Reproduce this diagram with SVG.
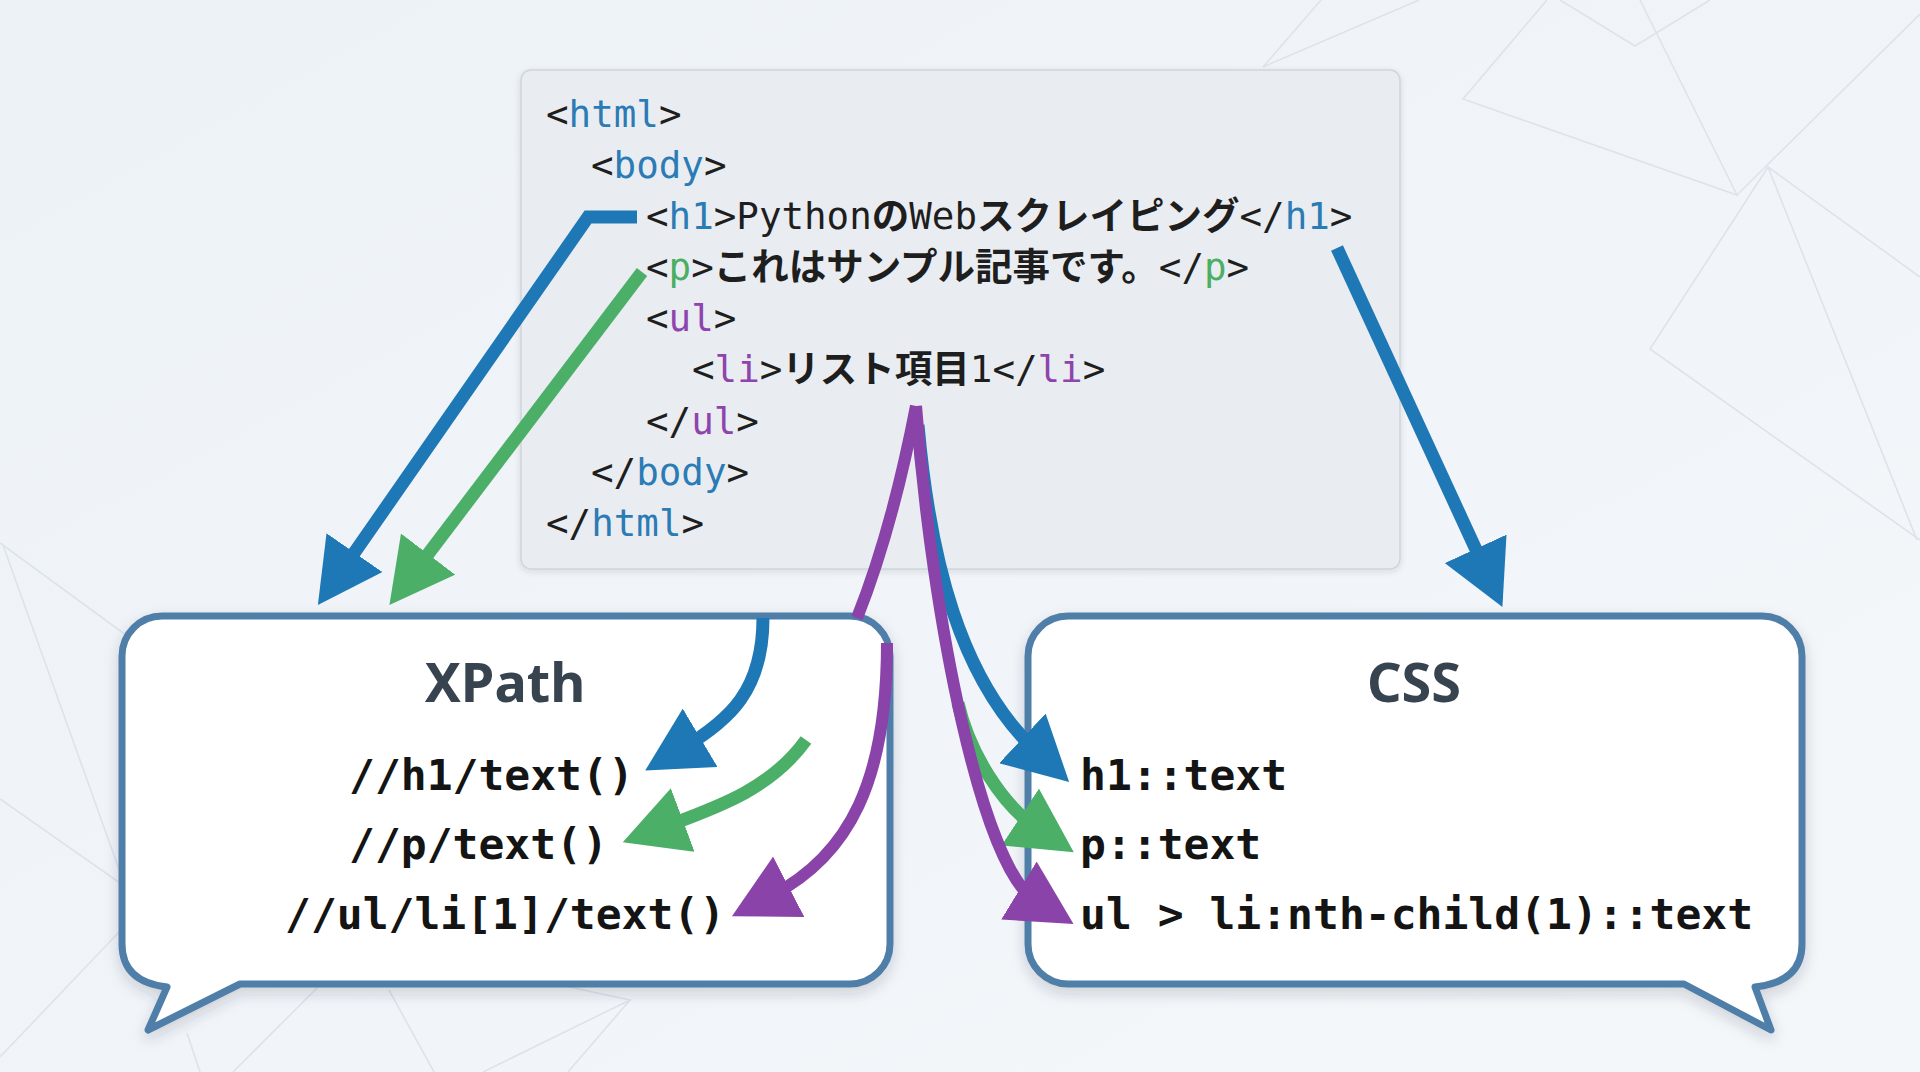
<svg xmlns="http://www.w3.org/2000/svg" width="1920" height="1072" viewBox="0 0 1920 1072">
  <style>
    .bgl { fill: none; stroke: #dde3ea; stroke-width: 1.6; }
    .code { font-family: "DejaVu Sans Mono", "Noto Sans CJK JP", monospace; font-size: 37.5px; fill: #1e1e1e; }
    .jp { font-family: "Noto Sans CJK JP", sans-serif; font-weight: 700; }
    .tb { fill: #2b7bb5; }
    .tg { fill: #4cae62; }
    .tp { fill: #8e44ad; }
    .bubble { fill: #ffffff; stroke: #4f7fa8; stroke-width: 7; stroke-linejoin: round; }
    .title { font-family: "Noto Sans", "Open Sans", sans-serif; font-weight: 700; font-size: 54px; fill: #37434f; text-anchor: middle; }
    .sel { font-family: "DejaVu Sans Mono", monospace; font-weight: 700; font-size: 43px; fill: #141414; }
    .ab { fill: none; stroke: #1f78b6; stroke-width: 13; }
    .ag { fill: none; stroke: #4caf68; stroke-width: 13; }
    .ap { fill: none; stroke: #8a43a8; stroke-width: 12; }
  </style>
  <defs>
    <linearGradient id="bg" x1="0" y1="0" x2="1" y2="1">
      <stop offset="0" stop-color="#edf2f7"/>
      <stop offset="1" stop-color="#f4f7fa"/>
    </linearGradient>
    <filter id="sh" x="-10%" y="-10%" width="120%" height="130%">
      <feDropShadow dx="0" dy="6" stdDeviation="7" flood-color="#1c2a3a" flood-opacity="0.18"/>
    </filter>
    <filter id="sh2" x="-5%" y="-5%" width="110%" height="115%">
      <feDropShadow dx="0" dy="2" stdDeviation="3" flood-color="#1c2a3a" flood-opacity="0.12"/>
    </filter>
    <marker id="mb" viewBox="0 0 64 68" refX="20" refY="34" markerWidth="64" markerHeight="68" markerUnits="userSpaceOnUse" orient="auto">
      <path d="M0,0 L64,34 L0,68 Z" fill="#1f78b6"/>
    </marker>
    <marker id="mg" viewBox="0 0 64 68" refX="20" refY="34" markerWidth="64" markerHeight="68" markerUnits="userSpaceOnUse" orient="auto">
      <path d="M0,0 L64,34 L0,68 Z" fill="#4caf68"/>
    </marker>
    <marker id="mp" viewBox="0 0 64 68" refX="20" refY="34" markerWidth="64" markerHeight="68" markerUnits="userSpaceOnUse" orient="auto">
      <path d="M0,0 L64,34 L0,68 Z" fill="#8a43a8"/>
    </marker>
  </defs>

  <rect x="0" y="0" width="1920" height="1072" fill="url(#bg)"/>

  <g id="background-lines">
    <path class="bgl" d="M1321,0 L1263,67 L1419,0"/>
    <path class="bgl" d="M1547,0 L1463,99 L1737,195 L1640,0"/>
    <path class="bgl" d="M1560,0 L1635,46 L1710,0"/>
    <path class="bgl" d="M1737,195 L1920,14"/>
    <path class="bgl" d="M1920,277 L1768,167 L1650,349 L1920,540"/>
    <path class="bgl" d="M1768,167 L1917,540"/>
    <path class="bgl" d="M0,543 L160,660"/>
    <path class="bgl" d="M3,545 L130,900"/>
    <path class="bgl" d="M0,799 L140,897"/>
    <path class="bgl" d="M0,1057 L140,910"/>
    <path class="bgl" d="M187,1033 L200,1072"/>
    <path class="bgl" d="M233,1072 L320,985"/>
    <path class="bgl" d="M389,990 L434,1072"/>
    <path class="bgl" d="M560,985 L630,1000 L483,1072"/>
    <path class="bgl" d="M630,1000 L568,1072"/>
  </g>

  <g id="html-source">
    <rect x="521" y="70" width="879" height="499" rx="10" fill="#e9edf1" stroke="#cfd5dc" stroke-width="1.5" filter="url(#sh2)"/>
    <text class="code" x="546" y="127">&lt;<tspan class="tb">html</tspan>&gt;</text>
    <text class="code" x="591" y="178">&lt;<tspan class="tb">body</tspan>&gt;</text>
    <text class="code" x="646" y="229">&lt;<tspan class="tb">h1</tspan>&gt;Python<tspan class="jp">の</tspan>Web<tspan class="jp">スクレイピング</tspan>&lt;/<tspan class="tb">h1</tspan>&gt;</text>
    <text class="code" x="646" y="280">&lt;<tspan class="tg">p</tspan>&gt;<tspan class="jp">これはサンプル記事です。</tspan>&lt;/<tspan class="tg">p</tspan>&gt;</text>
    <text class="code" x="646" y="331">&lt;<tspan class="tp">ul</tspan>&gt;</text>
    <text class="code" x="692" y="382">&lt;<tspan class="tp">li</tspan>&gt;<tspan class="jp">リスト項目</tspan>1&lt;/<tspan class="tp">li</tspan>&gt;</text>
    <text class="code" x="646" y="434">&lt;/<tspan class="tp">ul</tspan>&gt;</text>
    <text class="code" x="591" y="485">&lt;/<tspan class="tb">body</tspan>&gt;</text>
    <text class="code" x="546" y="536">&lt;/<tspan class="tb">html</tspan>&gt;</text>
  </g>

  <g id="xpath-bubble">
    <path class="bubble" filter="url(#sh)" d="M162,616 H850 A40,40 0 0 1 890,656 V944 A40,40 0 0 1 850,984 H240 L148,1030 L167,987 Q122,982 122,944 V656 A40,40 0 0 1 162,616 Z"/>
    <text class="title" x="505" y="702">XPath</text>
    <text class="sel" x="349" y="790">//h1/text()</text>
    <text class="sel" x="349" y="859">//p/text()</text>
    <text class="sel" x="285" y="929">//ul/li[1]/text()</text>
  </g>

  <g id="css-bubble">
    <path class="bubble" filter="url(#sh)" d="M1068,616 H1762 A40,40 0 0 1 1802,656 V944 Q1802,982 1755,987 L1771,1030 L1684,984 H1068 A40,40 0 0 1 1028,944 V656 A40,40 0 0 1 1068,616 Z"/>
    <text class="title" x="1414" y="702">CSS</text>
    <text class="sel" x="1080" y="790">h1::text</text>
    <text class="sel" x="1080" y="859">p::text</text>
    <text class="sel" x="1080" y="929">ul &gt; li:nth-child(1)::text</text>
  </g>

  <g id="connectors">
    <path class="ab" d="M637,217 H588 L343,569" marker-end="url(#mb)"/>
    <path class="ag" d="M642,272 L416,570" marker-end="url(#mg)"/>
    <path class="ab" d="M1337,248 L1484,567" marker-end="url(#mb)"/>
    <path class="ab" d="M763,618 C763,690 730,720 683,748" marker-end="url(#mb)"/>
    <path class="ag" d="M806,740 C770,790 715,808 664,827" marker-end="url(#mg)"/>
    <path class="ab" d="M918,425 C930,560 960,680 1037,752" marker-end="url(#mb)"/>
    <path class="ag" d="M958,703 C969,752 1002,805 1037,828" marker-end="url(#mg)"/>
    <path class="ap" d="M916,406 Q892,530 857,618"/>
    <path class="ap" d="M887,643 C887,780 850,855 771,896" marker-end="url(#mp)"/>
    <path class="ap" d="M916,406 C932,620 982,868 1036,901" marker-end="url(#mp)"/>
  </g>
</svg>
